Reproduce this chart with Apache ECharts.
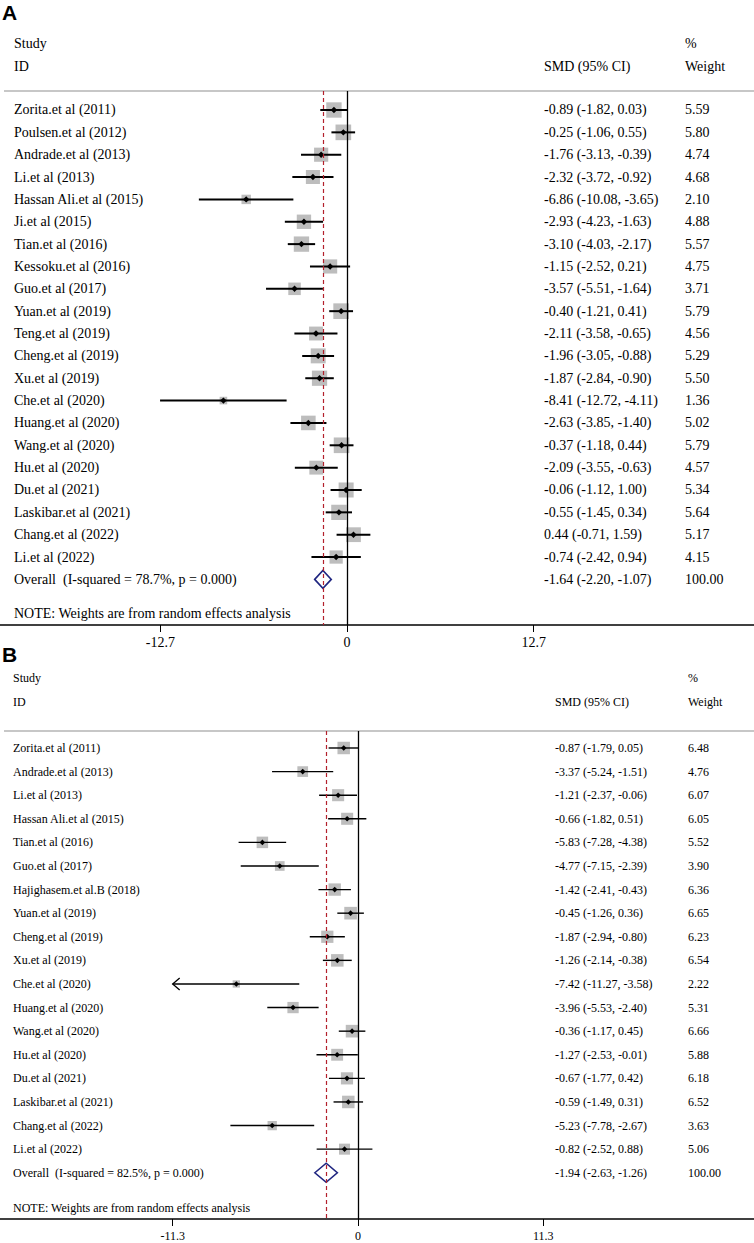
<!DOCTYPE html>
<html>
<head>
<meta charset="utf-8">
<script src="https://cdn.jsdelivr.net/npm/echarts@6/dist/echarts.min.js"></script>
<style>
  html, body { margin: 0; padding: 0; background: #fff; }
  #charts { width: 754px; height: 1243px; }
</style>
</head>
<body>
<div id="charts"></div>
<script>
// ---- panel A data ----
var studiesA = ['Zorita.et al (2011)', 'Poulsen.et al (2012)', 'Andrade.et al (2013)', 'Li.et al (2013)',
    'Hassan Ali.et al (2015)', 'Ji.et al (2015)', 'Tian.et al (2016)', 'Kessoku.et al (2016)', 'Guo.et al (2017)',
    'Yuan.et al (2019)', 'Teng.et al (2019)', 'Cheng.et al (2019)', 'Xu.et al (2019)', 'Che.et al (2020)',
    'Huang.et al (2020)', 'Wang.et al (2020)', 'Hu.et al (2020)', 'Du.et al (2021)', 'Laskibar.et al (2021)',
    'Chang.et al (2022)', 'Li.et al (2022)'];
var smdA = [-0.89, -0.25, -1.76, -2.32, -6.86, -2.93, -3.10, -1.15, -3.57, -0.40, -2.11, -1.96, -1.87, -8.41, -2.63, -0.37, -2.09, -0.06, -0.55, 0.44, -0.74];
var lowA = [-1.82, -1.06, -3.13, -3.72, -10.08, -4.23, -4.03, -2.52, -5.51, -1.21, -3.58, -3.05, -2.84, -12.72, -3.85, -1.18, -3.55, -1.12, -1.45, -0.71, -2.42];
var highA = [0.03, 0.55, -0.39, -0.92, -3.65, -1.63, -2.17, 0.21, -1.64, 0.41, -0.65, -0.88, -0.90, -4.11, -1.40, 0.44, -0.63, 1.00, 0.34, 1.59, 0.94];
var weightA = [5.59, 5.80, 4.74, 4.68, 2.10, 4.88, 5.57, 4.75, 3.71, 5.79, 4.56, 5.29, 5.50, 1.36, 5.02, 5.79, 4.57, 5.34, 5.64, 5.17, 4.15];
var overallA = [-1.64, -2.20, -1.07];
var hetA = 'Overall  (I-squared = 78.7%, p = 0.000)';
var ticksA = [-12.7, 0, 12.7];

// ---- panel B data ----
var studiesB = ['Zorita.et al (2011)', 'Andrade.et al (2013)', 'Li.et al (2013)', 'Hassan Ali.et al (2015)',
    'Tian.et al (2016)', 'Guo.et al (2017)', 'Hajighasem.et al.B (2018)', 'Yuan.et al (2019)', 'Cheng.et al (2019)',
    'Xu.et al (2019)', 'Che.et al (2020)', 'Huang.et al (2020)', 'Wang.et al (2020)', 'Hu.et al (2020)',
    'Du.et al (2021)', 'Laskibar.et al (2021)', 'Chang.et al (2022)', 'Li.et al (2022)'];
var smdB = [-0.87, -3.37, -1.21, -0.66, -5.83, -4.77, -1.42, -0.45, -1.87, -1.26, -7.42, -3.96, -0.36, -1.27, -0.67, -0.59, -5.23, -0.82];
var lowB = [-1.79, -5.24, -2.37, -1.82, -7.28, -7.15, -2.41, -1.26, -2.94, -2.14, -11.27, -5.53, -1.17, -2.53, -1.77, -1.49, -7.78, -2.52];
var highB = [0.05, -1.51, -0.06, 0.51, -4.38, -2.39, -0.43, 0.36, -0.80, -0.38, -3.58, -2.40, 0.45, -0.01, 0.42, 0.31, -2.67, 0.88];
var weightB = [6.48, 4.76, 6.07, 6.05, 5.52, 3.90, 6.36, 6.65, 6.23, 6.54, 2.22, 5.31, 6.66, 5.88, 6.18, 6.52, 3.63, 5.06];
var overallB = [-1.94, -2.63, -1.26];
var hetB = 'Overall  (I-squared = 82.5%, p = 0.000)';
var ticksB = [-11.3, 0, 11.3];

var note = 'NOTE: Weights are from random effects analysis';
var serif = '"Liberation Serif", "Times New Roman", serif';
var red = '#b3202c';
var navy = '#1f2580';

function fmt(v) { return v.toFixed(2); }
function ciText(e, l, h) { return fmt(e) + ' (' + fmt(l) + ', ' + fmt(h) + ')'; }

// layout of each panel (pixels)
var panelA = {
    top: 91, height: 534, ymin: -0.85, ymax: 23.04, xmin: -23.61, xmax: 27.69,
    font: 14, xName: 14, xSmd: 544, xWt: 685, box: 6.5, lw: 2, dot: 3.2, dh: 9, clip: null
};
var panelB = {
    top: 731, height: 488, ymin: -0.72, ymax: 19.96, xmin: -21.83, xmax: 24.15,
    font: 12, xName: 13, xSmd: 555, xWt: 688, box: 4.9, lw: 1.4, dot: 2.8, dh: 9.5, clip: -11.3
};

function rowData(s, e, l, h, w) {
    return s.map(function (name, i) { return [e[i], l[i], h[i], w[i], i]; });
}

function rowRender(cfg, names) {
    return function (params, api) {
        var i = api.value(4);
        var y = api.coord([0, i])[1];
        var e = api.value(0), l = api.value(1), h = api.value(2), w = api.value(3);
        var arrow = cfg.clip != null && l <= cfg.clip + 0.05;
        var xe = api.coord([e, i])[0];
        var xl = api.coord([arrow ? cfg.clip : l, i])[0];
        var xh = api.coord([h, i])[0];
        var s = cfg.box * Math.sqrt(w);
        var d = cfg.dot;
        var kids = [
            { type: 'rect', shape: { x: xe - s / 2, y: y - s / 2, width: s, height: s }, style: { fill: '#bdbdbd' } },
            { type: 'line', shape: { x1: xl, y1: y, x2: xh, y2: y }, style: { stroke: '#000', lineWidth: cfg.lw } },
            { type: 'polygon', shape: { points: [[xe - d, y], [xe, y - d], [xe + d, y], [xe, y + d]] }, style: { fill: '#000' } },
            { type: 'text', x: cfg.xName, y: y, style: { text: names[i], font: cfg.font + 'px ' + serif, fill: '#000', verticalAlign: 'middle' } },
            { type: 'text', x: cfg.xSmd, y: y, style: { text: ciText(e, l, h), font: cfg.font + 'px ' + serif, fill: '#000', verticalAlign: 'middle' } },
            { type: 'text', x: cfg.xWt, y: y, style: { text: fmt(w), font: cfg.font + 'px ' + serif, fill: '#000', verticalAlign: 'middle' } }
        ];
        if (arrow) {
            kids.push({ type: 'polyline', shape: { points: [[xl + 7, y - 6], [xl, y], [xl + 7, y + 6]] },
                style: { stroke: '#000', lineWidth: 1.3, fill: null } });
        }
        return { type: 'group', children: kids };
    };
}

function overallRender(cfg, label) {
    return function (params, api) {
        var i = api.value(3);
        var y = api.coord([0, i])[1];
        var e = api.value(0), l = api.value(1), h = api.value(2);
        var xe = api.coord([e, i])[0], xl = api.coord([l, i])[0], xh = api.coord([h, i])[0];
        return {
            type: 'group',
            children: [
                { type: 'polygon', shape: { points: [[xl, y], [xe, y - cfg.dh], [xh, y], [xe, y + cfg.dh]] },
                    style: { fill: 'none', stroke: navy, lineWidth: 1.6 } },
                { type: 'text', x: cfg.xName, y: y, style: { text: label, font: cfg.font + 'px ' + serif, fill: '#000', verticalAlign: 'middle' } },
                { type: 'text', x: cfg.xSmd, y: y, style: { text: ciText(e, l, h), font: cfg.font + 'px ' + serif, fill: '#000', verticalAlign: 'middle' } },
                { type: 'text', x: cfg.xWt, y: y, style: { text: '100.00', font: cfg.font + 'px ' + serif, fill: '#000', verticalAlign: 'middle' } }
            ]
        };
    };
}

function xAxisFor(cfg, idx, ticks) {
    return {
        type: 'value', gridIndex: idx, min: cfg.xmin, max: cfg.xmax,
        axisLine: { show: true, onZero: false, lineStyle: { color: '#000', width: 1.5 } },
        axisTick: { show: true, customValues: ticks, length: 7, lineStyle: { color: '#000', width: 1 } },
        axisLabel: { show: true, customValues: ticks, margin: cfg.font === 14 ? 10 : 11, color: '#000',
            fontFamily: serif, fontSize: cfg.font, formatter: function (v) { return String(v); } },
        splitLine: { show: false }
    };
}

function yAxisFor(cfg, idx) {
    return { type: 'value', gridIndex: idx, min: cfg.ymin, max: cfg.ymax, inverse: true, show: false };
}

function refLines(overall) {
    return {
        silent: true, symbol: 'none', label: { show: false }, animation: false,
        data: [
            { xAxis: 0, lineStyle: { color: '#000', width: 1.3, type: 'solid' } },
            { xAxis: overall[0], lineStyle: { color: red, width: 1.2, type: [4, 3] } }
        ]
    };
}

function headers(cfg, yStudy, yId, letter, yLetter, ySep, yNote) {
    var f = cfg.font + 'px ' + serif;
    return [
        { type: 'text', left: 2, top: yLetter, style: { text: letter, font: 'bold 21px "Liberation Sans", Arial, sans-serif', fill: '#000' } },
        { type: 'text', x: cfg.xName, y: yStudy, style: { text: 'Study', font: f, fill: '#000', verticalAlign: 'middle' } },
        { type: 'text', x: cfg.xName, y: yId, style: { text: 'ID', font: f, fill: '#000', verticalAlign: 'middle' } },
        { type: 'text', x: cfg.xSmd, y: yId, style: { text: 'SMD (95% CI)', font: f, fill: '#000', verticalAlign: 'middle' } },
        { type: 'text', x: cfg.xWt, y: yStudy, style: { text: '%', font: f, fill: '#000', verticalAlign: 'middle' } },
        { type: 'text', x: cfg.xWt, y: yId, style: { text: 'Weight', font: f, fill: '#000', verticalAlign: 'middle' } },
        { type: 'line', shape: { x1: 4, y1: ySep, x2: 754, y2: ySep }, style: { stroke: '#b4b4b4', lineWidth: 1.5 } },
        { type: 'text', x: cfg.xName, y: yNote, style: { text: note, font: f, fill: '#000', verticalAlign: 'middle' } }
    ];
}

var myChart = echarts.init(document.getElementById('charts'), null, { renderer: 'svg' });
var option = {
    animation: false,
    backgroundColor: '#fff',
    grid: [
        { left: 0, width: 754, top: panelA.top, height: panelA.height },
        { left: 0, width: 754, top: panelB.top, height: panelB.height }
    ],
    xAxis: [xAxisFor(panelA, 0, ticksA), xAxisFor(panelB, 1, ticksB)],
    yAxis: [yAxisFor(panelA, 0), yAxisFor(panelB, 1)],
    graphic: headers(panelA, 43, 66, 'A', 2, 91, 613).concat(headers(panelB, 678, 702, 'B', 644, 731, 1208)),
    series: [
        {
            type: 'custom', xAxisIndex: 0, yAxisIndex: 0, clip: false,
            data: rowData(studiesA, smdA, lowA, highA, weightA),
            encode: { x: [0, 1, 2], y: 4 },
            renderItem: rowRender(panelA, studiesA),
            markLine: refLines(overallA)
        },
        {
            type: 'custom', xAxisIndex: 0, yAxisIndex: 0, clip: false,
            data: [overallA.concat([studiesA.length])],
            encode: { x: [0, 1, 2], y: 3 },
            renderItem: overallRender(panelA, hetA)
        },
        {
            type: 'custom', xAxisIndex: 1, yAxisIndex: 1, clip: false,
            data: rowData(studiesB, smdB, lowB, highB, weightB),
            encode: { x: [0, 1, 2], y: 4 },
            renderItem: rowRender(panelB, studiesB),
            markLine: refLines(overallB)
        },
        {
            type: 'custom', xAxisIndex: 1, yAxisIndex: 1, clip: false,
            data: [overallB.concat([studiesB.length])],
            encode: { x: [0, 1, 2], y: 3 },
            renderItem: overallRender(panelB, hetB)
        }
    ]
};
myChart.setOption(option);
</script>
</body>
</html>
